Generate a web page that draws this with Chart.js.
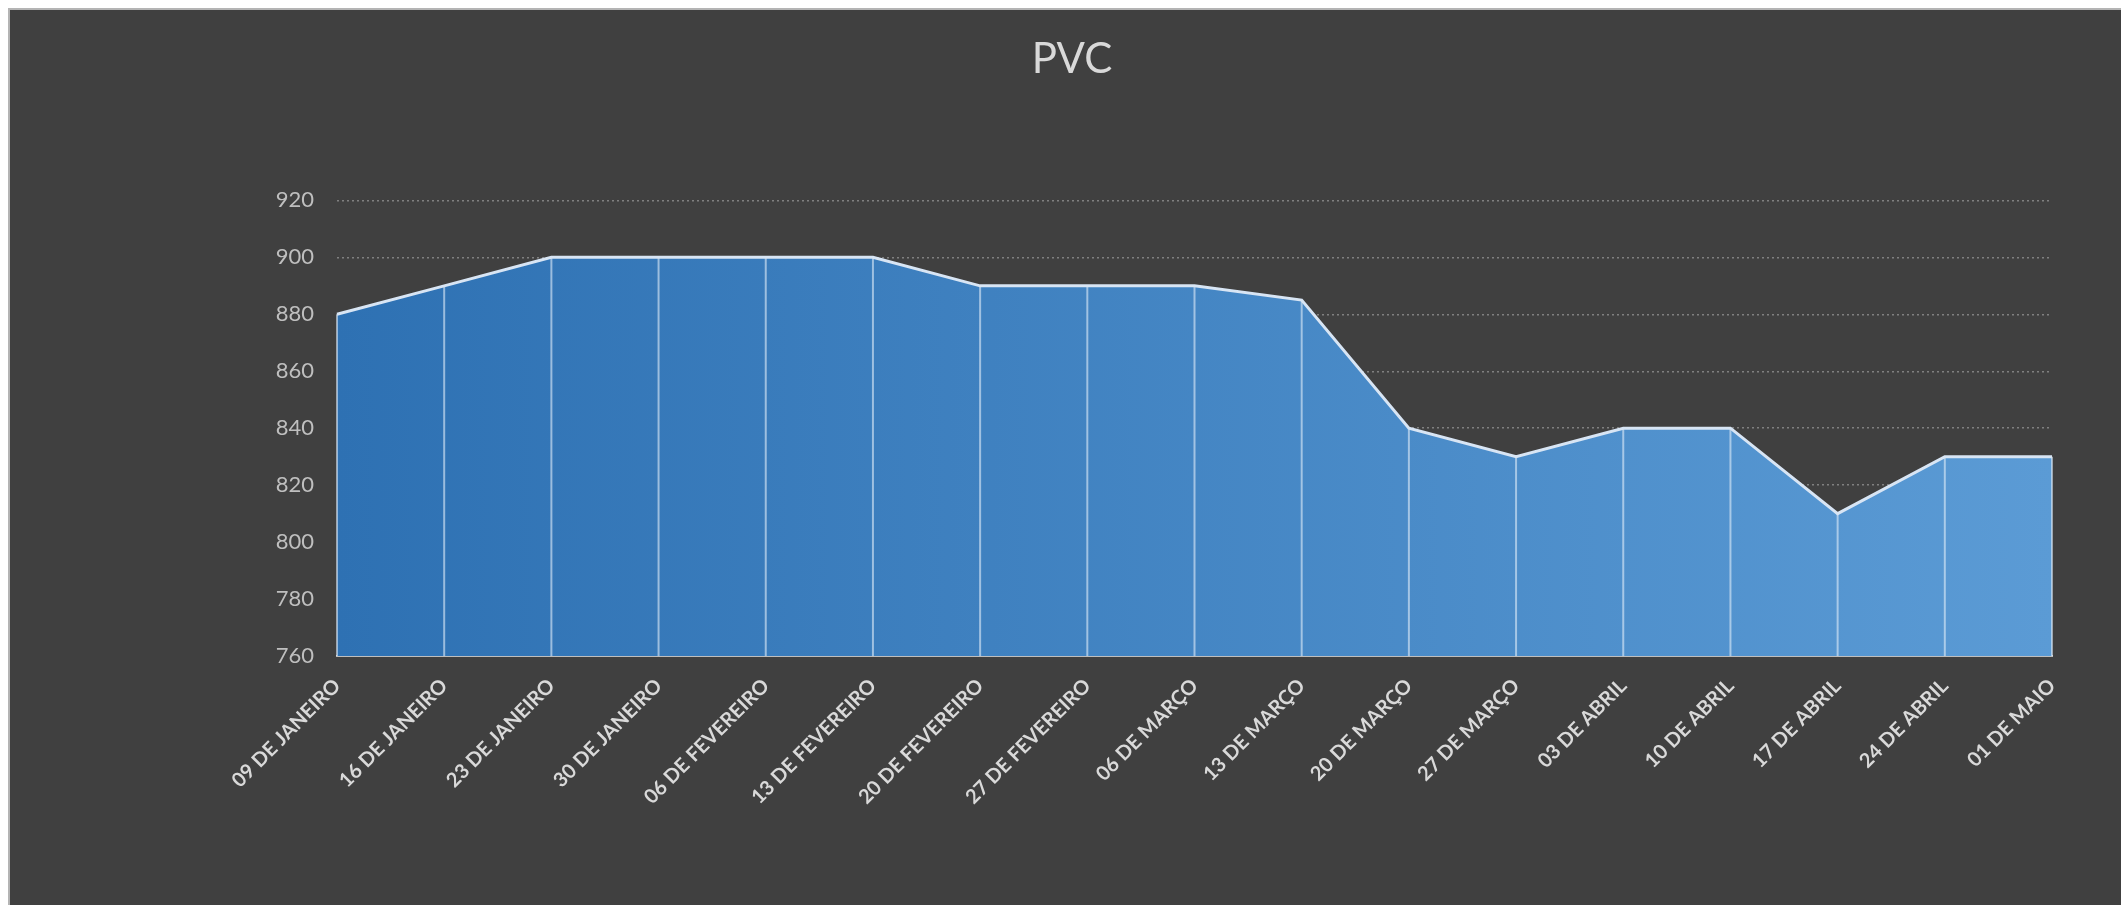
<!DOCTYPE html>
<html>
<head>
<meta charset="utf-8">
<title>PVC</title>
<script src="https://cdn.jsdelivr.net/npm/chart.js@4.4.1/dist/chart.umd.min.js"></script>
<style>
  html, body { margin: 0; padding: 0; background: #ffffff; overflow: hidden; }
  #frame {
    position: absolute; left: 8px; top: 8px;
    width: 2140px; height: 920px;
    background: #404040; border: 2px solid #b4b4b4;
  }
  #pvcChart { position: absolute; left: 0; top: 0; }
</style>
</head>
<body>
<div id="frame"></div>
<canvas id="pvcChart" width="2121" height="905"></canvas>
<script>
// dados do gráfico
const semanas = ['09 DE JANEIRO', '16 DE JANEIRO', '23 DE JANEIRO', '30 DE JANEIRO', '06 DE FEVEREIRO',
	'13 DE FEVEREIRO', '20 DE FEVEREIRO', '27 DE FEVEREIRO', '06 DE MARÇO', '13 DE MARÇO', '20 DE MARÇO',
	'27 DE MARÇO', '03 DE ABRIL', '10 DE ABRIL', '17 DE ABRIL', '24 DE ABRIL', '01 DE MAIO'];
const precos = [880, 890, 900, 900, 900, 900, 890, 890, 890, 885, 840, 830, 840, 840, 810, 830, 830];
const yTicks = [760, 780, 800, 820, 840, 860, 880, 900, 920];

// linhas verticais de cada ponto até a base
const dropLines = {
	id: 'dropLines',
	beforeDatasetDraw(chart, args) {
		const meta = args.meta;
		const bottom = chart.scales.y.bottom;
		const ctx = chart.ctx;
		ctx.save();
		ctx.strokeStyle = 'rgba(225, 236, 248, 0.6)';
		ctx.lineWidth = 2;
		meta.data.forEach(pt => {
			ctx.beginPath();
			ctx.moveTo(pt.x, pt.y);
			ctx.lineTo(pt.x, bottom);
			ctx.stroke();
		});
		ctx.restore();
	}
};

const ctx = document.getElementById('pvcChart').getContext('2d');
new Chart(ctx, {
	type: 'line',
	data: {
		labels: semanas,
		datasets: [{
			label: 'PVC',
			data: precos,
			fill: 'start',
			borderColor: '#d8e5f4',
			borderWidth: 3,
			pointRadius: 0,
			tension: 0,
			backgroundColor: function (context) {
				const area = context.chart.chartArea;
				if (!area) return '#3f82c6';
				const g = context.chart.ctx.createLinearGradient(area.left, 0, area.right, 0);
				g.addColorStop(0, '#2e71b3');
				g.addColorStop(1, '#5b9bd5');
				return g;
			}
		}]
	},
	options: {
		responsive: false,
		animation: false,
		layout: { padding: { left: 92, right: 69, top: 0, bottom: 0 } },
		plugins: {
			legend: { display: false },
			tooltip: { enabled: false },
			title: {
				display: true,
				text: 'PVC',
				color: '#d9d9d9',
				font: { family: 'Lato', size: 42, weight: 'normal' },
				padding: { top: 34, bottom: 116 }
			}
		},
		scales: {
			x: {
				grid: { display: false, drawTicks: false },
				border: { display: true, color: '#bfbfbf', width: 2 },
				ticks: {
					color: '#d9d9d9',
					font: { family: 'Lato', size: 20, weight: 'bold' },
					minRotation: 45,
					maxRotation: 45,
					autoSkip: false,
					padding: 18
				},
				afterFit: function (scale) { scale.height = 249; }
			},
			y: {
				min: 760,
				max: 920,
				grid: { color: '#808080', lineWidth: 1.5, drawTicks: false },
				border: { display: false, dash: [2, 3] },
				ticks: {
					color: '#bfbfbf',
					font: { family: 'Lato', size: 22 },
					padding: 23
				},
				afterBuildTicks: function (scale) {
					scale.ticks = yTicks.map(v => ({ value: v }));
				},
				afterFit: function (scale) { scale.width = 245; }
			}
		}
	},
	plugins: [dropLines]
});
</script>
</body>
</html>
